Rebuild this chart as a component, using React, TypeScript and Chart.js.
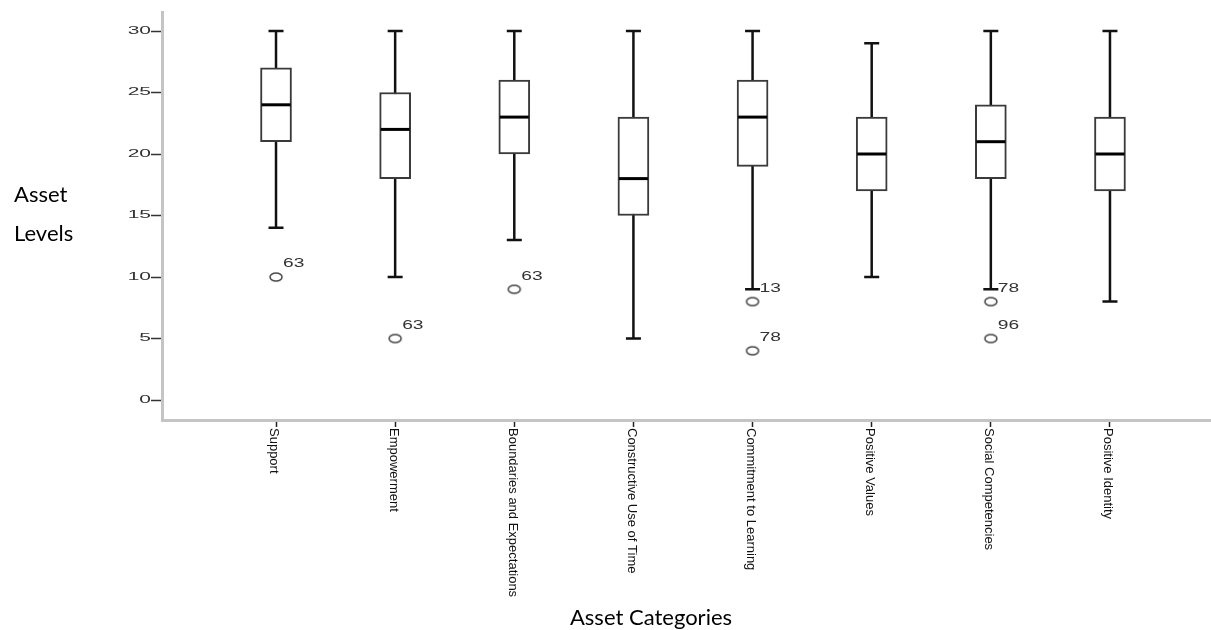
import React, { useEffect, useRef } from 'react';
import { Chart, registerables } from 'chart.js';

Chart.register(...registerables);

const categories = [
  'Support',
  'Empowerment',
  'Boundaries and Expectations',
  'Constructive Use of Time',
  'Commitment to Learning',
  'Positive Values',
  'Social Competencies',
  'Positive Identity',
];
const whiskerLow = [14, 10, 13, 5, 9, 10, 9, 8];
const q1 = [21, 18, 20, 15, 19, 17, 18, 17];
const median = [24, 22, 23, 18, 23, 20, 21, 20];
const q3 = [27, 25, 26, 23, 26, 23, 24, 23];
const whiskerHigh = [30, 30, 30, 30, 30, 29, 30, 30];

const outlierCategory = [0, 1, 2, 4, 4, 6, 6];
const outlierValue = [10, 5, 9, 8, 4, 8, 5];
const outlierLabel = ['63', '63', '63', '13', '78', '78', '96'];

const yTicks = [0, 5, 10, 15, 20, 25, 30];

const yTitle = ['Asset', 'Levels'];
const xTitle = 'Asset Categories';

export default function App() {
  const ref = useRef<HTMLCanvasElement>(null);

  useEffect(() => {
    const canvas = ref.current;
    if (!canvas) return;

    const ellipse = document.createElement('canvas');
    ellipse.width = 16;
    ellipse.height = 12;
    const ec = ellipse.getContext('2d')!;
    ec.beginPath();
    ec.ellipse(8, 6, 6, 4, 0, 0, Math.PI * 2);
    ec.fillStyle = '#ffffff';
    ec.fill();
    ec.lineWidth = 1.5;
    ec.strokeStyle = '#444444';
    ec.stroke();

    const boxPlugin = {
      id: 'boxplotExtras',
      beforeDatasetsDraw(chart: any) {
        const { ctx, scales } = chart;
        const x = scales.x;
        const y = scales.y;
        ctx.save();
        ctx.strokeStyle = '#111111';
        ctx.lineWidth = 2.5;
        categories.forEach((_, i) => {
          const px = x.getPixelForValue(i);
          const lo = y.getPixelForValue(whiskerLow[i]);
          const hi = y.getPixelForValue(whiskerHigh[i]);
          ctx.beginPath();
          ctx.moveTo(px, lo);
          ctx.lineTo(px, hi);
          ctx.moveTo(px - 7.5, lo);
          ctx.lineTo(px + 7.5, lo);
          ctx.moveTo(px - 7.5, hi);
          ctx.lineTo(px + 7.5, hi);
          ctx.stroke();
        });
        ctx.restore();
      },
      afterDatasetsDraw(chart: any) {
        const { ctx, scales } = chart;
        const x = scales.x;
        const y = scales.y;
        ctx.save();
        ctx.strokeStyle = '#000000';
        ctx.lineWidth = 3;
        categories.forEach((_, i) => {
          const px = x.getPixelForValue(i);
          const py = y.getPixelForValue(median[i]);
          ctx.beginPath();
          ctx.moveTo(px - 14.5, py);
          ctx.lineTo(px + 14.5, py);
          ctx.stroke();
        });
        // outlier labels
        ctx.fillStyle = '#333333';
        ctx.font = '12px "Liberation Sans", Arial, sans-serif';
        ctx.textAlign = 'left';
        ctx.textBaseline = 'middle';
        outlierLabel.forEach((lab, k) => {
          const px = x.getPixelForValue(outlierCategory[k]) + 7;
          const py = y.getPixelForValue(outlierValue[k]) - 13;
          ctx.save();
          ctx.translate(px, py);
          ctx.scale(1.6, 1);
          ctx.fillText(lab, 0, 0);
          ctx.restore();
        });
        ctx.restore();
      },
      afterDraw(chart: any) {
        const { ctx, scales } = chart;
        const x = scales.x;
        const y = scales.y;
        ctx.save();
        // x category labels, rotated clockwise
        ctx.fillStyle = '#111111';
        ctx.font = '13px "Liberation Sans", Arial, sans-serif';
        ctx.textAlign = 'left';
        ctx.textBaseline = 'middle';
        categories.forEach((lab, i) => {
          const px = x.getPixelForValue(i) - 2;
          ctx.save();
          ctx.translate(px, y.bottom + 8);
          ctx.rotate(Math.PI / 2);
          ctx.fillText(lab, 0, 0);
          ctx.restore();
        });
        // y tick labels
        ctx.fillStyle = '#333333';
        ctx.font = '10.5px "Liberation Sans", Arial, sans-serif';
        ctx.textAlign = 'right';
        yTicks.forEach((v) => {
          const py = y.getPixelForValue(v);
          ctx.save();
          ctx.translate(x.left - 11, py);
          ctx.scale(2.0, 1);
          ctx.fillText(String(v), 0, 0);
          ctx.restore();
        });
        // axis titles
        ctx.fillStyle = '#000000';
        ctx.font = '22px Lato, "Open Sans", sans-serif';
        ctx.textAlign = 'left';
        ctx.textBaseline = 'alphabetic';
        ctx.fillText(yTitle[0], 14, 202);
        ctx.fillText(yTitle[1], 14, 241);
        ctx.textAlign = 'center';
        ctx.fillText(xTitle, 651, 625);
        ctx.restore();
      },
    };

    const chart = new Chart(canvas, {
      type: 'bar',
      data: {
        datasets: [
          {
            type: 'bar',
            data: categories.map((_, i) => ({ x: i, y: [q1[i], q3[i]] })) as any,
            backgroundColor: '#ffffff',
            borderColor: '#3a3a3a',
            borderWidth: 2,
            borderSkipped: false,
            barThickness: 31,
          } as any,
          {
            type: 'scatter',
            data: outlierCategory.map((c, k) => ({ x: c, y: outlierValue[k] })),
            pointStyle: ellipse as any,
            pointRadius: 6,
            showLine: false,
          } as any,
        ],
      },
      options: {
        animation: false,
        responsive: false,
        layout: { autoPadding: false, padding: { top: 12, left: 0, right: 0, bottom: 0 } },
        plugins: {
          legend: { display: false },
          tooltip: { enabled: false },
        },
        scales: {
          x: {
            type: 'linear',
            offset: false,
            min: -0.957,
            max: 7.848,
            afterBuildTicks: (scale: any) => {
              scale.ticks = categories.map((_, i) => ({ value: i }));
            },
            afterFit: (scale: any) => {
              scale.height = 210;
            },
            ticks: { display: false },
            grid: {
              offset: false,
              drawOnChartArea: false,
              drawTicks: true,
              tickLength: 7,
              tickColor: '#222222',
              tickWidth: 1.5,
            },
            border: { display: true, color: '#c4c4c4', width: 3 },
          },
          y: {
            type: 'linear',
            min: -1.626,
            max: 31.545,
            afterBuildTicks: (scale: any) => {
              scale.ticks = yTicks.map((v) => ({ value: v }));
            },
            afterFit: (scale: any) => {
              scale.width = 162;
            },
            ticks: { display: false },
            grid: {
              drawOnChartArea: false,
              drawTicks: true,
              tickLength: 11,
              tickColor: '#333333',
              tickWidth: 1.5,
            },
            border: { display: true, color: '#c4c4c4', width: 3 },
          },
        },
      },
      plugins: [boxPlugin],
    });

    return () => chart.destroy();
  }, []);

  return (
    <div style={{ position: 'absolute', left: 0, top: 0, width: 1211, height: 630, background: '#ffffff' }}>
      <canvas ref={ref} width={1211} height={630} style={{ display: 'block' }} />
    </div>
  );
}
